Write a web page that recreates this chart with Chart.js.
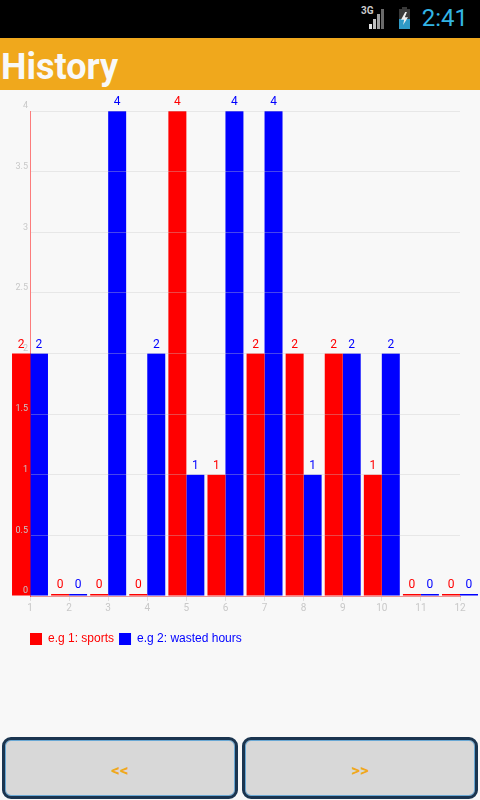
<!DOCTYPE html>
<html>
<head>
<meta charset="utf-8">
<script src="https://cdn.jsdelivr.net/npm/chart.js@4.4.1/dist/chart.umd.min.js"></script>
<style>
    body { margin: 0; width: 480px; height: 800px; background: #f8f8f8; font-family: Roboto, sans-serif; position: relative; overflow: hidden; }
    .status { position: absolute; top: 0; left: 0; width: 480px; height: 38px; background: #000; }
    .status .net { position: absolute; left: 361px; top: 5px; color: #ccc; font-size: 10px; font-weight: bold; }
    .status .bar { position: absolute; bottom: 9px; width: 3px; }
    .status .battery { position: absolute; left: 399px; top: 9px; width: 11px; height: 20px; background: #3a3a3a; }
    .status .battery .cap { position: absolute; left: 3px; top: -2px; width: 5px; height: 2px; background: #3a3a3a; }
    .status .battery .charge { position: absolute; left: 0; bottom: 0; width: 11px; height: 10px; background: #2f9ac6; }
    .status .battery .bolt { position: absolute; left: 2px; top: 3px; width: 7px; height: 13px; background: #f0f0f0; clip-path: polygon(60% 0, 0 60%, 45% 60%, 30% 100%, 100% 40%, 55% 40%, 85% 0); }
    .status .time { position: absolute; right: 12px; top: 4px; color: #33b5e5; font-size: 24px; }
    .title { position: absolute; top: 38px; left: 0; width: 480px; height: 52px; background: #f0a81c; }
    .title span { position: absolute; left: 1px; top: 8px; color: #f8f8f8; font-size: 36px; font-weight: bold; }
    .chart-box { position: absolute; top: 90px; left: 0; width: 480px; height: 565px; }
    .btn { position: absolute; top: 737px; width: 230px; height: 56px; background: #d8d8d8; border: 3px solid #1b3550; border-radius: 9px; box-shadow: inset 0 0 0 1px #6aa8d4; color: #f0a81c; font-size: 17px; font-weight: bold; text-align: center; line-height: 60px; }
</style>
</head>
<body>
<div class="status">
    <span class="net">3G</span>
    <div class="bar" style="left: 369px; height: 5px; background: #e0e0e0;"></div>
    <div class="bar" style="left: 373px; height: 10px; background: #c0c0c0;"></div>
    <div class="bar" style="left: 377px; height: 15px; background: #a0a0a0;"></div>
    <div class="bar" style="left: 381px; height: 20px; background: #6a6a6a;"></div>
    <div class="battery"><div class="cap"></div><div class="charge"></div><div class="bolt"></div></div>
    <span class="time">2:41</span>
</div>
<div class="title"><span>History</span></div>
<div class="chart-box"><canvas id="chart-history"></canvas></div>
<div class="btn" style="left: 2px;">&lt;&lt;</div>
<div class="btn" style="left: 242px;">&gt;&gt;</div>

<script>
const days = ['1', '2', '3', '4', '5', '6', '7', '8', '9', '10', '11', '12'];
const sports = [2, 0, 0, 0, 4, 1, 2, 2, 2, 1, 0, 0];
const wastedHours = [2, 0, 4, 2, 1, 4, 4, 1, 2, 2, 0, 0];

// value above each bar, in the bar's own colour
const barValues = {
    id: 'barValues',
    afterLayout(chart) {
        // legend starts right under the y axis line
        chart.legend.left = chart.chartArea.left - 5;
    },
    afterDatasetsDraw(chart) {
        const ctx = chart.ctx;
        ctx.save();
        ctx.font = '12px Roboto';
        ctx.textAlign = 'center';
        ctx.textBaseline = 'bottom';
        chart.data.datasets.forEach((ds, i) => {
            ctx.fillStyle = ds.backgroundColor;
            chart.getDatasetMeta(i).data.forEach((bar, j) => {
                ctx.fillText(ds.data[j], bar.x, bar.y - 3);
            });
        });
        ctx.restore();
    },
};

new Chart(document.getElementById('chart-history'), {
    type: 'bar',
    data: {
        labels: days,
        datasets: [{
            label: 'e.g 1: sports',
            data: sports,
            backgroundColor: '#ff0000',
        }, {
            label: 'e.g 2: wasted hours',
            data: wastedHours,
            backgroundColor: '#0000ff',
        }],
    },
    options: {
        animation: false,
        responsive: true,
        maintainAspectRatio: false,
        font: { family: 'Roboto' },
        layout: { padding: { top: 21, right: 20 } },
        datasets: {
            bar: {
                clip: false,
                categoryPercentage: 0.92,
                barPercentage: 1,
                minBarLength: 2,
                borderWidth: 0,
            },
        },
        scales: {
            x: {
                offset: false,
                afterFit: (s) => { s.height = 32; },
                grid: { offset: false, drawOnChartArea: false, tickLength: 5, color: '#dddddd' },
                border: { color: 'rgba(255, 0, 0, 0.5)', z: 1 },
                ticks: { color: '#c8c8c8', font: { size: 10 }, padding: 1 },
            },
            y: {
                min: 0,
                max: 4,
                afterFit: (s) => { s.width = 30; },
                grid: { color: 'rgba(200, 200, 200, 0.35)', drawTicks: false, z: 1 },
                border: { color: 'rgba(255, 0, 0, 0.5)', z: 1 },
                ticks: {
                    stepSize: 0.5,
                    color: '#c8c8c8',
                    font: { size: 9 },
                    padding: 2,
                    labelOffset: -5,
                    z: 1,
                    callback: (value) => String(value),
                },
            },
        },
        plugins: {
            tooltip: { enabled: false },
            legend: {
                position: 'bottom',
                align: 'start',
                fullSize: false,
                labels: {
                    boxWidth: 12,
                    boxHeight: 12,
                    padding: 5,
                    font: { size: 12 },
                    generateLabels: (chart) => {
                        const items = Chart.defaults.plugins.legend.labels.generateLabels(chart);
                        items.forEach((item) => {
                            item.fontColor = item.fillStyle;
                            item.lineWidth = 0;
                        });
                        return items;
                    },
                },
            },
        },
    },
    plugins: [barValues],
});
</script>
</body>
</html>
